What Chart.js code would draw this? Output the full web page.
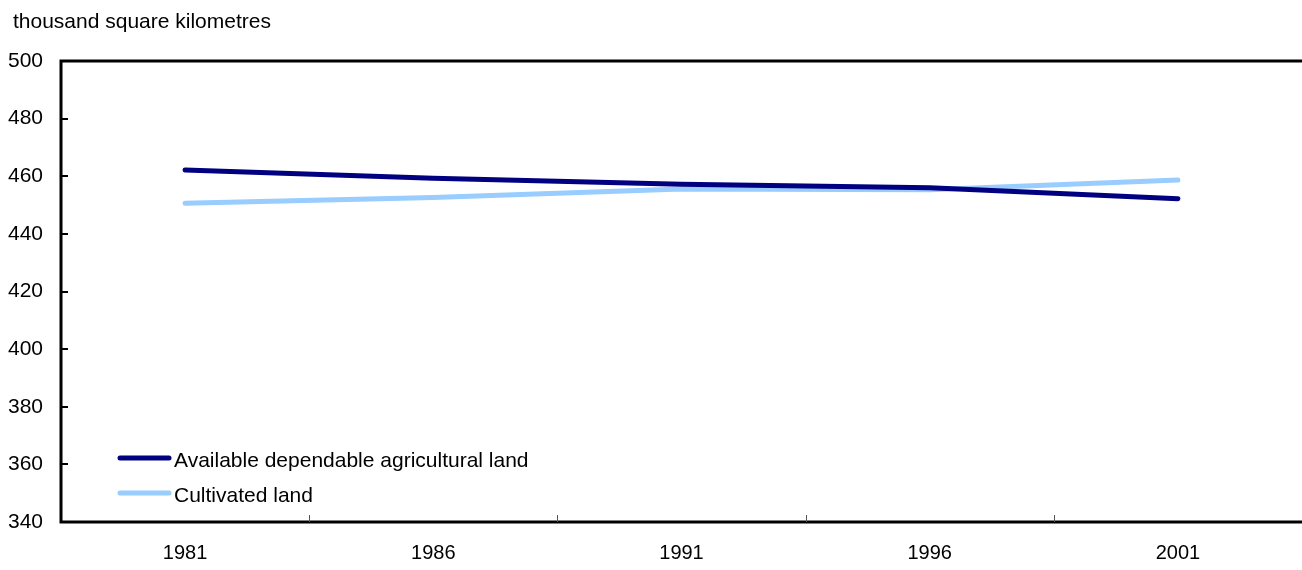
<!DOCTYPE html>
<html><head><meta charset="utf-8">
<script src="https://cdn.jsdelivr.net/npm/chart.js@4.4.1/dist/chart.umd.min.js"></script>
<style>html,body{margin:0;padding:0;background:#fff;}#wrap{width:1302px;height:570px;}</style>
</head><body><div id="wrap"><canvas id="c" width="1302" height="570"></canvas></div>
<script>
const categories = ["1981", "1986", "1991", "1996", "2001"];
const availableLand = [462.2, 459.3, 457.2, 456.0, 452.2];
const cultivatedLand = [450.6, 452.6, 455.6, 455.3, 458.7];
const seriesNames = ["Available dependable agricultural land", "Cultivated land"];
const yTitle = "thousand square kilometres";
const yMin = 340, yMax = 500, yStep = 20;

const FONT = "'Liberation Sans', Arial, Helvetica, sans-serif";

const framePlugin = {
  id: 'frame',
  afterDraw(chart) {
    const {ctx, chartArea: a, scales} = chart;
    ctx.save();
    // title
    ctx.fillStyle = '#000';
    ctx.font = '21px ' + FONT;
    ctx.textBaseline = 'middle';
    ctx.textAlign = 'left';
    ctx.fillText(yTitle, 13, 22);
    // borders
    ctx.strokeStyle = '#000';
    ctx.lineWidth = 3;
    ctx.beginPath();
    ctx.moveTo(a.left, a.bottom); ctx.lineTo(a.left, a.top); ctx.lineTo(a.right, a.top);
    ctx.moveTo(a.left - 1.5, a.bottom); ctx.lineTo(a.right, a.bottom);
    ctx.stroke();
    // y ticks inward
    const ys = scales.y;
    ctx.lineWidth = 2;
    ys.ticks.forEach(t => {
      const y = Math.round(ys.getPixelForValue(t.value));
      ctx.beginPath(); ctx.moveTo(a.left, y); ctx.lineTo(a.left + 7, y); ctx.stroke();
    });
    // x ticks at category boundaries
    const xs = scales.x;
    ctx.strokeStyle = '#555';
    ctx.lineWidth = 1;
    for (let i = 1; i < categories.length; i++) {
      const x = Math.round((xs.getPixelForValue(i - 1) + xs.getPixelForValue(i)) / 2) + 0.5;
      ctx.beginPath(); ctx.moveTo(x, a.bottom); ctx.lineTo(x, a.bottom - 7); ctx.stroke();
    }
    // legend
    ctx.font = '21px ' + FONT;
    ctx.textBaseline = 'middle';
    chart.data.datasets.forEach((ds, i) => {
      const y = 458 + i * 35;
      ctx.strokeStyle = ds.borderColor;
      ctx.lineWidth = 5;
      ctx.lineCap = 'round';
      ctx.beginPath(); ctx.moveTo(120, y); ctx.lineTo(169, y); ctx.stroke();
      ctx.fillStyle = '#000';
      ctx.fillText(ds.label, 174, y + 3);
    });
    ctx.restore();
  }
};

new Chart(document.getElementById('c'), {
  type: 'line',
  data: {
    labels: categories,
    datasets: [
      { label: seriesNames[0], data: availableLand, borderColor: '#000080', borderWidth: 5, pointRadius: 0, borderCapStyle: 'round', borderJoinStyle: 'round', tension: 0 },
      { label: seriesNames[1], data: cultivatedLand, borderColor: '#99CCFF', borderWidth: 5, pointRadius: 0, borderCapStyle: 'round', borderJoinStyle: 'round', tension: 0 }
    ]
  },
  options: {
    responsive: false,
    animation: false,
    layout: { padding: { top: 61, left: 0, right: 0, bottom: 0 } },
    plugins: { legend: { display: false }, tooltip: { enabled: false }, title: { display: false } },
    scales: {
      x: {
        offset: true,
        grid: { display: false, drawTicks: false },
        border: { display: false },
        ticks: { color: '#000', font: { family: FONT, size: 20 }, padding: 19, maxRotation: 0 },
        afterFit(s) { s.height = 48; }
      },
      y: {
        min: yMin, max: yMax,
        grid: { display: false, drawTicks: false },
        border: { display: false },
        ticks: { stepSize: yStep, color: '#000', font: { family: FONT, size: 21 }, padding: 18 },
        afterFit(s) { s.width = 61; }
      }
    }
  },
  plugins: [framePlugin]
});
</script>
</body></html>
